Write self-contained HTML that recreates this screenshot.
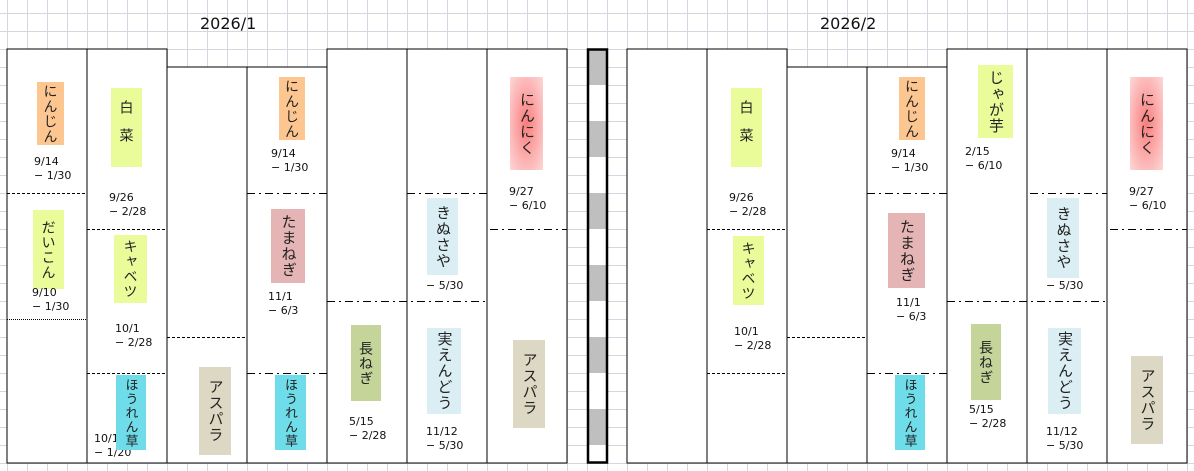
<!DOCTYPE html>
<html><head><meta charset="utf-8">
<style>
html,body{margin:0;padding:0;}
body{width:1194px;height:471px;position:relative;overflow:hidden;background:#fff;font-family:"Liberation Sans","Noto Sans CJK JP",sans-serif;}
svg{position:absolute;left:0;top:0;}
.b{position:absolute;display:flex;align-items:center;justify-content:center;writing-mode:vertical-rl;font-size:14px;color:#222;letter-spacing:1px;line-height:1;}
.l{position:absolute;font-size:11px;line-height:14px;color:#111;white-space:pre;font-family:"DejaVu Sans","Liberation Sans",sans-serif;}
.t{position:absolute;font-size:16px;color:#111;top:14px;font-family:"DejaVu Sans","Liberation Sans",sans-serif;}
.or{background:#fdc691}.yg{background:#eafc9a}.cy{background:#6fdce9}.as{background:#ddd8c3}.tm{background:#e5b5b5}.ng{background:#c5d59a}.lb{background:#dbeef4}
.rd{background:radial-gradient(ellipse at center,#fa7c7c 0%,#fcb0b0 55%,#fdd8d8 100%)}
</style></head><body>
<svg width="1194" height="471">
<defs>
<pattern id="g" x="7" y="13" width="20" height="18" patternUnits="userSpaceOnUse">
<path d="M0.5 0V18M0 0.5H20" stroke="#d3d7e0" stroke-width="1" fill="none"/>
</pattern>
</defs>
<rect width="1194" height="471" fill="url(#g)"/>
<g stroke="#000" stroke-width="1.2" fill="none" shape-rendering="crispEdges">
<rect x="7" y="49" width="160" height="414" fill="#fff"/>
<rect x="167" y="67" width="160" height="396" fill="#fff"/>
<rect x="327" y="49" width="240" height="414" fill="#fff"/>
<path d="M87 49V463M247 67V463M407 49V463M487 49V463M167 49V67M167 67H327"/>
<rect x="627" y="49" width="160" height="414" fill="#fff"/>
<rect x="787" y="67" width="160" height="396" fill="#fff"/>
<rect x="947" y="49" width="240" height="414" fill="#fff"/>
<path d="M707 49V463M867 67V463M1027 49V463M1107 49V463"/>
</g>
<g fill="none" stroke="#000" stroke-width="1" shape-rendering="crispEdges">
<g stroke-dasharray="3,2">
<path d="M7 193.5H87M87 229.5H167M87 373.5H167M167 337.5H247"/>
<path d="M707 229.5H787M707 373.5H787M787 337.5H867"/>
</g>
<path d="M7 319.5H87" stroke-dasharray="1,1"/>
<g stroke-dasharray="8,4,2,4">
<path d="M247 193.5H327M247 373.5H327M327 301.5H487M407 193.5H487M490 229.5H567"/>
<path d="M867 193.5H947M867 373.5H947M947 301.5H1107M1030 193.5H1107M1110 229.5H1187"/>
</g>
</g>
<g>
<rect x="588" y="50" width="19" height="412" fill="#fff"/>
<rect x="588" y="50" width="19" height="35" fill="#bfbfbf"/>
<rect x="588" y="121" width="19" height="36" fill="#bfbfbf"/>
<rect x="588" y="193" width="19" height="36" fill="#bfbfbf"/>
<rect x="588" y="265" width="19" height="36" fill="#bfbfbf"/>
<rect x="588" y="337" width="19" height="36" fill="#bfbfbf"/>
<rect x="588" y="409" width="19" height="36" fill="#bfbfbf"/>
<rect x="588" y="49.5" width="19" height="413" fill="none" stroke="#000" stroke-width="2.5"/>
</g>
</svg>

<div class="t" style="left:200px">2026/1</div>
<div class="t" style="left:820px">2026/2</div>

<div class="b or" style="left:37px;top:82px;width:27px;height:63px">にんじん</div>
<div class="l" style="left:34px;top:155px">9/14
− 1/30</div>
<div class="b yg" style="left:33px;top:210px;width:31px;height:79px">だいこん</div>
<div class="l" style="left:32px;top:286px">9/10
− 1/30</div>
<div class="b yg" style="left:111px;top:88px;width:31px;height:79px;letter-spacing:14px">白菜</div>
<div class="l" style="left:109px;top:191px">9/26
− 2/28</div>
<div class="b yg" style="left:114px;top:235px;width:33px;height:68px">キャベツ</div>
<div class="l" style="left:115px;top:322px">10/1
− 2/28</div>
<div class="l" style="left:94px;top:432px">10/10
− 1/20</div>
<div class="b cy" style="left:116px;top:375px;width:30px;height:75px;font-size:13px">ほうれん草</div>
<div class="b as" style="left:199px;top:367px;width:32px;height:88px;font-size:15px">アスパラ</div>
<div class="b or" style="left:279px;top:77px;width:26px;height:63px">にんじん</div>
<div class="l" style="left:271px;top:147px">9/14
− 1/30</div>
<div class="b tm" style="left:271px;top:209px;width:34px;height:74px;font-size:15px">たまねぎ</div>
<div class="l" style="left:268px;top:290px">11/1
− 6/3</div>
<div class="b cy" style="left:275px;top:375px;width:31px;height:75px;font-size:13px">ほうれん草</div>
<div class="b ng" style="left:351px;top:325px;width:30px;height:76px">長ねぎ</div>
<div class="l" style="left:349px;top:415px">5/15
− 2/28</div>
<div class="l" style="left:426px;top:265px"><span style="color:transparent">11/1</span>
− 5/30</div>
<div class="b lb" style="left:427px;top:198px;width:31px;height:77px;font-size:15px">きぬさや</div>
<div class="b lb" style="left:427px;top:328px;width:34px;height:86px;font-size:15px">実えんどう</div>
<div class="l" style="left:426px;top:425px">11/12
− 5/30</div>
<div class="b rd" style="left:510px;top:77px;width:33px;height:93px;font-size:15px">にんにく</div>
<div class="l" style="left:509px;top:185px">9/27
− 6/10</div>
<div class="b as" style="left:513px;top:340px;width:32px;height:88px;font-size:15px">アスパラ</div>

<div class="b yg" style="left:731px;top:88px;width:31px;height:79px;letter-spacing:14px">白菜</div>
<div class="l" style="left:729px;top:191px">9/26
− 2/28</div>
<div class="b yg" style="left:733px;top:236px;width:31px;height:69px">キャベツ</div>
<div class="l" style="left:734px;top:325px">10/1
− 2/28</div>
<div class="b or" style="left:899px;top:77px;width:26px;height:63px">にんじん</div>
<div class="l" style="left:891px;top:147px">9/14
− 1/30</div>
<div class="b tm" style="left:888px;top:213px;width:37px;height:75px;font-size:15px">たまねぎ</div>
<div class="l" style="left:896px;top:296px">11/1
− 6/3</div>
<div class="b cy" style="left:895px;top:375px;width:30px;height:75px;font-size:13px">ほうれん草</div>
<div class="b yg" style="left:978px;top:65px;width:35px;height:73px;font-size:15px">じゃが芋</div>
<div class="l" style="left:965px;top:145px">2/15
− 6/10</div>
<div class="b ng" style="left:971px;top:324px;width:30px;height:76px">長ねぎ</div>
<div class="l" style="left:969px;top:403px">5/15
− 2/28</div>
<div class="l" style="left:1046px;top:265px"><span style="color:transparent">11/1</span>
− 5/30</div>
<div class="b lb" style="left:1047px;top:198px;width:32px;height:80px;font-size:15px">きぬさや</div>
<div class="b lb" style="left:1048px;top:328px;width:33px;height:86px;font-size:15px">実えんどう</div>
<div class="l" style="left:1046px;top:425px">11/12
− 5/30</div>
<div class="b rd" style="left:1130px;top:77px;width:33px;height:93px;font-size:15px">にんにく</div>
<div class="l" style="left:1129px;top:185px">9/27
− 6/10</div>
<div class="b as" style="left:1131px;top:356px;width:32px;height:88px;font-size:15px">アスパラ</div>
</body></html>
